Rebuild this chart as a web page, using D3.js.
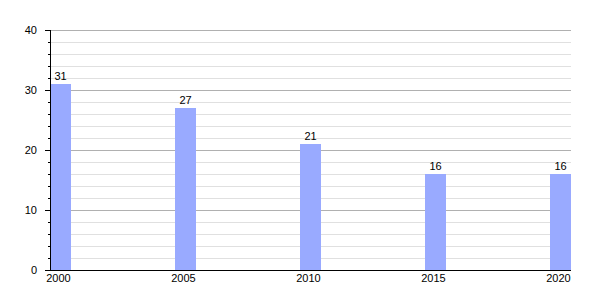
<!DOCTYPE html>
<html>
<head>
<meta charset="utf-8">
<script src="https://cdn.jsdelivr.net/npm/d3@7"></script>
<style>
  body { margin: 0; background: #fff; }
  svg { display: block; font-family: "Liberation Sans", Arial, sans-serif; }
</style>
</head>
<body>
<div id="chart"></div>
<script>
// Bar heights.
const years = [2000, 2005, 2010, 2015, 2020];
const values = [31, 27, 21, 16, 16];
const yMajorTicks = [0, 10, 20, 30, 40];

const width = 600;
const height = 300;
const plot = { left: 50, right: 571, top: 30, bottom: 270 };
const barWidth = 21;

const svg = d3.select('#chart').append('svg')
  .attr('width', width)
  .attr('height', height);

const x = d3.scaleLinear().domain([2000, 2020]).range([plot.left, plot.right - barWidth]);
const y = d3.scaleLinear().domain([0, 40]).range([plot.bottom, plot.top]);

// minor grid every 2 units, major every 10
const minorTicks = d3.range(2, 40, 2).filter((v) => v % 10 !== 0);
svg.append('g').selectAll('line')
  .data(minorTicks)
  .join('line')
  .attr('x1', plot.left).attr('x2', plot.right)
  .attr('y1', (d) => y(d) + 0.5).attr('y2', (d) => y(d) + 0.5)
  .attr('stroke', '#e0e0e0');

svg.append('g').selectAll('line')
  .data(yMajorTicks.filter((v) => v > 0))
  .join('line')
  .attr('x1', plot.left).attr('x2', plot.right)
  .attr('y1', (d) => y(d) + 0.5).attr('y2', (d) => y(d) + 0.5)
  .attr('stroke', '#b0b0b0');

// bars
svg.append('g').selectAll('rect')
  .data(years)
  .join('rect')
  .attr('x', (d) => x(d))
  .attr('width', barWidth)
  .attr('y', (d, i) => y(values[i]))
  .attr('height', (d, i) => y(0) - y(values[i]))
  .attr('fill', '#99aaff');

// value labels
svg.append('g').selectAll('text')
  .data(years)
  .join('text')
  .attr('x', (d) => x(d) + barWidth / 2)
  .attr('y', (d, i) => y(values[i]) - 4)
  .attr('text-anchor', 'middle')
  .attr('font-size', 11)
  .attr('fill', '#000')
  .text((d, i) => values[i]);

// y axis
const yAxis = svg.append('g');
yAxis.append('line')
  .attr('x1', plot.left + 0.5).attr('x2', plot.left + 0.5)
  .attr('y1', plot.top).attr('y2', plot.bottom)
  .attr('stroke', '#000');
yAxis.selectAll('line.minor')
  .data(minorTicks)
  .join('line')
  .attr('class', 'minor')
  .attr('x1', plot.left - 2).attr('x2', plot.left)
  .attr('y1', (d) => y(d) + 0.5).attr('y2', (d) => y(d) + 0.5)
  .attr('stroke', '#000');
yAxis.selectAll('line.major')
  .data(yMajorTicks)
  .join('line')
  .attr('class', 'major')
  .attr('x1', plot.left - 5).attr('x2', plot.left)
  .attr('y1', (d) => y(d) + 0.5).attr('y2', (d) => y(d) + 0.5)
  .attr('stroke', '#000');
yAxis.selectAll('text')
  .data(yMajorTicks)
  .join('text')
  .attr('x', 37)
  .attr('y', (d) => y(d) + 4)
  .attr('text-anchor', 'end')
  .attr('font-size', 11)
  .text((d) => d);

// x axis
svg.append('line')
  .attr('x1', plot.left - 5).attr('x2', plot.right)
  .attr('y1', plot.bottom + 0.5).attr('y2', plot.bottom + 0.5)
  .attr('stroke', '#000');
svg.append('g').selectAll('text')
  .data(years)
  .join('text')
  .attr('x', (d) => x(d) + barWidth / 2 - 2)
  .attr('y', plot.bottom + 12)
  .attr('text-anchor', 'middle')
  .attr('font-size', 11)
  .text((d) => d);
</script>
</body>
</html>
